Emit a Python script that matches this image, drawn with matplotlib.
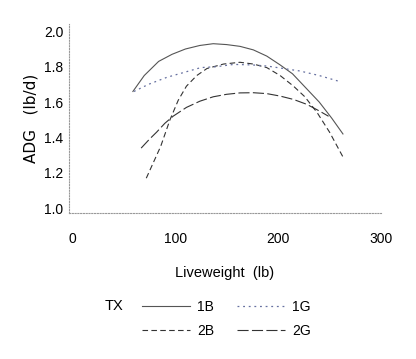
import matplotlib
matplotlib.use("Agg")
import matplotlib.pyplot as plt

plt.rcParams['font.family'] = ['Liberation Sans Narrow', 'Liberation Sans', 'DejaVu Sans']

# values
x_1b = [59, 70, 84, 97, 110, 124, 137, 150, 163, 176, 189, 202, 214, 227, 240, 252, 263]
y_1b = [1.66, 1.75, 1.83, 1.87, 1.90, 1.92, 1.93, 1.925, 1.915, 1.895, 1.86, 1.81, 1.76, 1.68, 1.60, 1.51, 1.42]

x_1g = [60, 74, 92, 110, 125, 140, 157, 175, 189, 205, 221, 240, 260]
y_1g = [1.66, 1.70, 1.74, 1.77, 1.795, 1.80, 1.813, 1.81, 1.804, 1.79, 1.776, 1.75, 1.716]

x_2b = [72, 79, 86, 95, 103, 111, 121, 131, 147, 163, 176, 189, 202, 215, 226, 238, 250, 263]
y_2b = [1.17, 1.26, 1.35, 1.50, 1.61, 1.69, 1.75, 1.79, 1.815, 1.825, 1.815, 1.795, 1.75, 1.69, 1.63, 1.54, 1.43, 1.29]

x_2g = [67, 75, 82, 90, 98, 111, 124, 137, 150, 163, 176, 189, 202, 215, 228, 240, 249]
y_2g = [1.34, 1.39, 1.43, 1.48, 1.52, 1.57, 1.605, 1.63, 1.644, 1.652, 1.653, 1.648, 1.634, 1.615, 1.587, 1.55, 1.52]

labels = ['1B', '2B', '1G', '2G']
xticks = [0, 100, 200, 300]
yticks = [1.0, 1.2, 1.4, 1.6, 1.8, 2.0]

fig = plt.figure(figsize=(4.16, 3.59), dpi=100)
ax = fig.add_axes([0.166, 0.4075, 0.75, 0.525])

lc = '#333333'
l1b, = ax.plot(x_1b, y_1b, color='#555555', lw=0.8, ls='-')
l2b, = ax.plot(x_2b, y_2b, color=lc, lw=0.8, ls=(0, (5, 3)))
l1g, = ax.plot(x_1g, y_1g, color='#6670a0', lw=0.9, ls=(0, (1.5, 3)))
l2g, = ax.plot(x_2g, y_2g, color=lc, lw=0.8, ls=(0, (10, 3)))

ax.set_xlim(-3, 300)
ax.set_ylim(0.975, 2.04)
ax.set_xticks(xticks)
ax.set_xticklabels([str(t) for t in xticks])
ax.set_yticks(yticks)
ax.set_yticklabels(['%.1f' % t for t in yticks])
ax.tick_params(length=0, labelsize=10, pad=4)
ax.tick_params(axis='x', pad=14)

for s in ['top', 'right']:
    ax.spines[s].set_visible(False)
for s in ['left', 'bottom']:
    ax.spines[s].set_linestyle((0, (1, 1.5)))
    ax.spines[s].set_color('#999999')
    ax.spines[s].set_linewidth(0.8)

ax.set_xlabel('Liveweight  (lb)', fontsize=10.5, labelpad=14)
ax.set_ylabel('ADG   (lb/d)', fontsize=11, family=['DejaVu Sans'], labelpad=4)

fig.text(0.252, 0.148, 'TX', fontsize=10.5, ha='left', va='center')
ax.legend([l1b, l2b, l1g, l2g], labels, ncol=2, frameon=False,
          loc='upper left', bbox_to_anchor=(0.324, 0.185),
          bbox_transform=fig.transFigure, fontsize=10,
          handlelength=3.5, handletextpad=0.5, columnspacing=1.6,
          labelspacing=0.75, borderpad=0)

fig.savefig('out.png', dpi=100)
